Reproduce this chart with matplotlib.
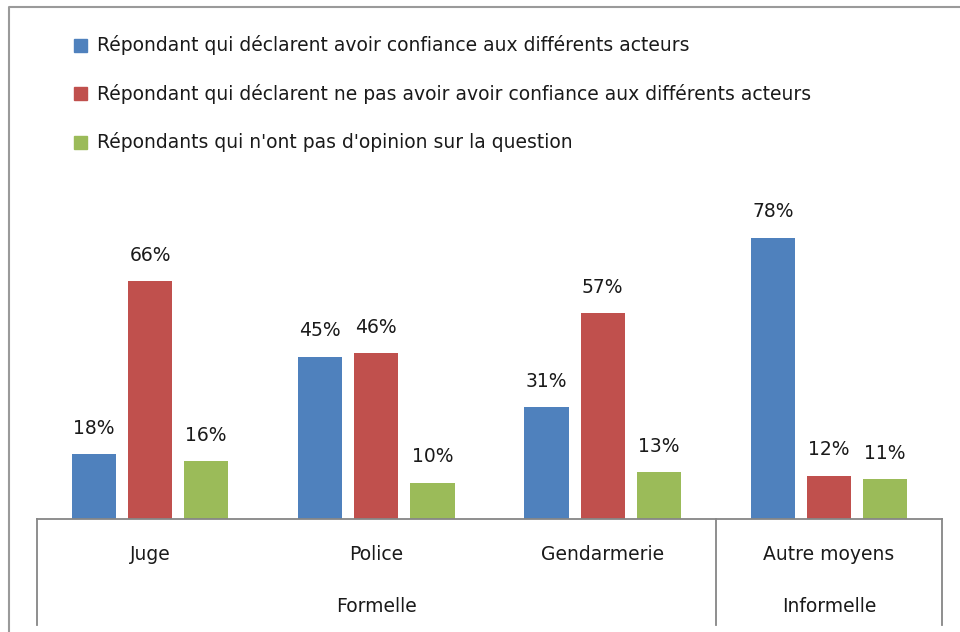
import matplotlib
matplotlib.use("Agg")
import matplotlib.pyplot as plt
from matplotlib.lines import Line2D
from matplotlib.patches import Rectangle
import numpy as np

# Données
categories = ["Juge", "Police", "Gendarmerie", "Autre moyens"]
groupes = [("Formelle", 0, 2), ("Informelle", 3, 3)]
series = [
    "Répondant qui déclarent avoir confiance aux différents acteurs",
    "Répondant qui déclarent ne pas avoir avoir confiance aux différents acteurs",
    "Répondants qui n'ont pas d'opinion sur la question",
]
confiance = [18, 45, 31, 78]
pas_confiance = [66, 46, 57, 12]
sans_opinion = [16, 10, 13, 11]
couleurs = ["#4F81BD", "#C0504D", "#9BBB59"]

W, H = 960, 632
fig = plt.figure(figsize=(W / 100, H / 100), dpi=100)
fig.patch.set_facecolor("white")

def fx(px):
    return px / W

def fy(py):
    return 1 - py / H

# cadre du graphique (bord gauche et haut)
fig.add_artist(Line2D([fx(9), fx(9), fx(962)], [fy(640), fy(7), fy(7)],
                      color="#9a9a9a", lw=1.5, transform=fig.transFigure))

# axes : gauche 37px, droite 942px, base 519px, haut 170px
ax_l, ax_r, ax_b, ax_t = 37, 942, 519, 170
ax = fig.add_axes([fx(ax_l), fy(ax_b), fx(ax_r - ax_l), (ax_b - ax_t) / H])
ax.set_xlim(-0.5, len(categories) - 0.5)
ax.set_ylim(0, 96.8)
ax.axis("off")

taille = 13.5
x = np.arange(len(categories))
largeur = 0.195
pas = 0.248
for i, (vals, col) in enumerate(zip([confiance, pas_confiance, sans_opinion], couleurs)):
    pos = x + (i - 1) * pas
    bars = ax.bar(pos, vals, width=largeur, color=col)
    for b, v in zip(bars, vals):
        ax.annotate(f"{v}%", (b.get_x() + b.get_width() / 2, v),
                    xytext=(0, 26), textcoords="offset pixels",
                    ha="center", va="center", fontsize=taille, color="#1a1a1a")

# axe des catégories à deux niveaux
trans = ax.get_xaxis_transform()
gris = "#868686"
bas = -(625 - ax_b) / (ax_b - ax_t)
ax.plot([-0.5, 3.5], [0, 0], color=gris, lw=1.3, transform=trans, clip_on=False)
for xv in [-0.5, 2.5, 3.5]:
    ax.plot([xv, xv], [0, bas], color=gris, lw=1.3, transform=trans, clip_on=False)

y_cat = -(555 - ax_b) / (ax_b - ax_t)
y_grp = -(607 - ax_b) / (ax_b - ax_t)
for xi, c in zip(x, categories):
    ax.text(xi, y_cat, c, transform=trans, ha="center", va="center",
            fontsize=taille, color="#1a1a1a")
for nom, d, f in groupes:
    ax.text((d + f) / 2, y_grp, nom, transform=trans, ha="center", va="center",
            fontsize=taille, color="#1a1a1a")

# légende
for i, (nom, col) in enumerate(zip(series, couleurs)):
    yc = 45 + i * 48.5
    fig.add_artist(Rectangle((fx(74), fy(yc + 6.5)), fx(13), 13 / H,
                             color=col, transform=fig.transFigure))
    fig.text(fx(97), fy(yc), nom, ha="left", va="center",
             fontsize=taille, color="#1a1a1a")

fig.savefig("out.png", dpi=100, facecolor="white")
